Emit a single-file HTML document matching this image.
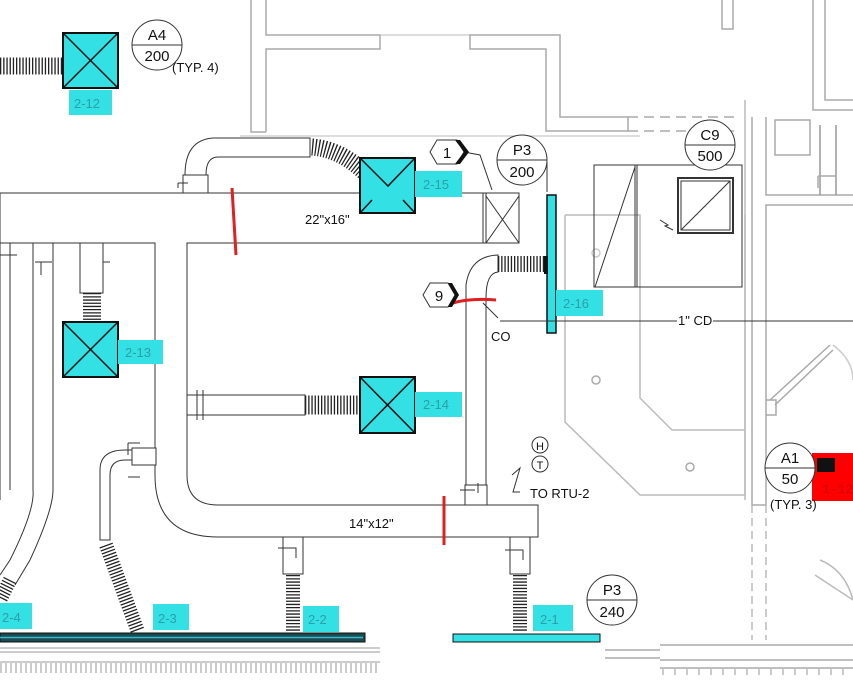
<!DOCTYPE html>
<html><head><meta charset="utf-8"><style>
html,body{margin:0;padding:0;background:#fff}
svg{display:block}
text{font-family:"Liberation Sans",sans-serif}
.m{font-family:"Liberation Mono",monospace;fill:#2aa0a8;font-size:13px}
</style></head><body>
<svg width="853" height="680" viewBox="0 0 853 680" xmlns="http://www.w3.org/2000/svg">
<g fill="none" stroke="#aaa" stroke-width="1.5">
<!-- walls top -->
<path d="M251 0V132H266M266 0V35H380V49H266V132"/>
<path d="M380 35H470M240 136H640" stroke-width="1" stroke="#bbb"/>
<path d="M470 35H560V117H628V131H546V49H470Z"/>
<path d="M628 117H740M628 131H740" stroke-dasharray="10 6"/>
<path d="M722 0V29H733V0"/>
<path d="M813 0V110H853M825 0V100H853"/>
<path d="M752 117V505H766V205H853M766 117V195H853"/>
<path d="M820 125V195M836 125V195" stroke="#999"/>
<path d="M818 176H836M818 176V188"/>
<path d="M775 120H810V155H775Z"/>
<!-- room outlines -->
<path d="M565 215H640V398L672 430H745" stroke="#bbb"/>
<path d="M565 215V422L640 495H745V215" stroke="#bbb"/>
<path d="M745 100V500" stroke="#bbb"/>
<circle cx="596" cy="380" r="4"/><circle cx="690" cy="467" r="4"/><circle cx="596" cy="253" r="4" stroke="#ccc"/>
<path d="M770 400L830 345M775 405L833 350"/>
<path d="M766 400H776V415H766"/>
<path d="M833 345Q853 360 853 380" stroke="#ccc"/>
<path d="M820 560Q845 570 853 600M815 575L853 600" stroke="#bbb"/>
<path d="M752 505V640M766 505V640" stroke-dasharray="8 5" stroke="#bbb"/>
<!-- bottom wall -->
<path d="M0 648H380M0 662H380M0 652H380" stroke="#bbb"/>
<path d="M0 668H380" stroke="#ccc" stroke-dasharray="2 3" stroke-width="10"/>
<path d="M605 650H660M605 658H660M660 645H853M660 668H853M660 660H853" stroke="#aaa"/>
<path d="M662 672H853" stroke="#ccc" stroke-dasharray="2 10" stroke-width="6"/>
</g>
<!-- AHU box -->
<g fill="none" stroke="#333" stroke-width="1">
<rect x="594" y="165" width="148" height="122"/>
<path d="M635 165V287M637 165V287M595 287L635 167"/>
<rect x="678" y="178" width="55" height="55" stroke-width="2"/>
<rect x="681" y="181" width="49" height="49"/>
<path d="M681 230L730 181M660 220l8 5-3 1 8 4"/>
</g>
<!-- ducts -->
<g fill="#fff" stroke="#333" stroke-width="1">
<path d="M0 193H483V243H187V475 Q187 505 218 505H538V537H218 Q155 537 155 475V243H0Z"/>
<path d="M213 138H310V157H213"/>
<path d="M213 138Q185 140 185 175H206Q206 157 218 157" />
<rect x="183" y="175" width="25" height="18"/>
<path d="M178 183h10M178 183v5" fill="none"/>
<rect x="483" y="193" width="36" height="50"/><path d="M486 193V243M486 196L519 243M519 196L486 243" fill="none"/>
<path d="M466 505V285Q470 256 498 255H498V272Q486 273 486 298V505Z"/>
<rect x="465" y="485" width="22" height="20"/>
<path d="M187 395H305V415H187Z"/>
<path d="M197 390V420M203 390V420" fill="none"/>
<!-- left verticals -->
<path d="M0 243V500M10 243V490M33 243V490M53 243V490Q53 510 30 560L15 585M33 490Q35 510 10 560L0 575" fill="none"/>
<path d="M17 255h-17M52 262H35M41 262V275M110 262H90M90 262V275" fill="none"/>
<rect x="80" y="243" width="23" height="50"/>
<!-- 2-3 elbow -->
<path d="M100 540V470Q100 450 125 450H132V460H125Q110 460 110 475V540Z"/>
<rect x="132" y="448" width="24" height="17"/>
<path d="M128 443h12M128 443V455M128 477h12" fill="none"/>
<!-- drops -->
<rect x="283" y="537" width="20" height="37"/><path d="M278 548h18v10" fill="none"/>
<rect x="510" y="537" width="20" height="37"/><path d="M505 550h18v10" fill="none"/>
<path d="M460 490h15M478 483v10" fill="none"/>
</g>
<!-- flex ducts -->
<g fill="none" stroke="#222" stroke-dasharray="1.3 1.9">
<path d="M0 66H64" stroke-width="17"/>
<path d="M312 147Q350 150 380 190" stroke-width="17"/>
<path d="M92 293V330" stroke-width="18"/>
<path d="M305 405H362" stroke-width="19"/>
<path d="M498 264H545" stroke-width="16"/>
<path d="M106 545L138 632" stroke-width="14"/>
<path d="M293 575V632" stroke-width="14"/>
<path d="M520 575V632" stroke-width="14"/>
<path d="M10 580L0 600" stroke-width="14"/>
</g>
<!-- diffusers -->
<g stroke="#111" stroke-width="2">
<rect x="63" y="33" width="55" height="55" fill="#33e0e4"/>
<rect x="360" y="158" width="55" height="55" fill="#33e0e4"/>
<rect x="63" y="322" width="55" height="55" fill="#33e0e4"/>
<rect x="360" y="377" width="55" height="56" fill="#33e0e4"/>
<path d="M63 33L118 88M118 33L63 88M360 158L388 186L415 158M360 213L372 200M415 213L403 200M63 322L118 377M118 322L63 377M360 377L415 433M415 377L360 433" stroke-width="1.5" fill="none"/>
</g>
<rect x="547" y="195" width="9" height="138" fill="#33e0e4" stroke="#111" stroke-width="1.5"/>
<rect x="544" y="256" width="4" height="18" fill="#111"/>
<rect x="0" y="633" width="365" height="9" fill="#1d4a50" stroke="#111"/>
<path d="M0 637.5H363" stroke="#3bc" stroke-width="1.5"/>
<rect x="453" y="634" width="147" height="8" fill="#33e0e4" stroke="#111"/>
<!-- labels -->
<g fill="#33e0e4">
<rect x="69" y="90" width="43" height="25"/><rect x="415" y="171" width="47" height="26"/><rect x="118" y="340" width="45" height="24"/>
<rect x="415" y="392" width="47" height="25"/><rect x="556" y="290" width="47" height="26"/>
<rect x="0" y="603" width="32" height="26"/><rect x="153" y="604" width="36" height="26"/><rect x="303" y="606" width="36" height="26"/><rect x="533" y="605" width="40" height="26"/>
</g>
<g class="m">
<text x="74" y="108">2-12</text><text x="423" y="189">2-15</text><text x="125" y="357">2-13</text><text x="423" y="409">2-14</text><text x="563" y="308">2-16</text>
<text x="2" y="622">2-4</text><text x="158" y="623">2-3</text><text x="308" y="624">2-2</text><text x="540" y="624">2-1</text>
</g>
<rect x="812" y="453" width="41" height="48" fill="#f00"/>
<rect x="817" y="458" width="18" height="14" fill="#111"/>
<text x="822" y="493" font-size="13" class="m" style="fill:#c00">1-12</text>
<!-- red marks -->
<path d="M232 188Q234 220 236 255" stroke="#e02020" stroke-width="3" fill="none"/>
<path d="M453 303Q470 298 496 300" stroke="#e02020" stroke-width="3" fill="none"/>
<path d="M444 496V545" stroke="#e02020" stroke-width="3"/>
<!-- tags -->
<g fill="#fff" stroke="#333" stroke-width="1">
<circle cx="157" cy="45" r="25"/><path d="M132 45H182"/>
<circle cx="522" cy="160" r="25"/><path d="M497 160H547"/>
<circle cx="710" cy="145" r="25"/><path d="M685 145H735"/>
<circle cx="790" cy="468" r="25"/><path d="M765 468H815"/>
<circle cx="612" cy="600" r="25"/><path d="M587 600H637"/>
<polygon points="430,152 437,140 457,140 464,152 457,164 437,164"/>
<polygon points="423,295 430,283 448,283 455,295 448,307 430,307"/>
<circle cx="540" cy="445" r="8"/><circle cx="540" cy="464" r="8"/>
<path d="M464 152L480 155L492 190M547 162V192M483 303L498 318M500 321H556M556 321H853M512 475L520 468L513 492H520" fill="none"/>
</g>
<path d="M455 140L464 152L455 164L460 164L469 152L460 140Z M448 283L455 295L448 307L452 307L459 295L452 283Z" fill="#111"/>
<g font-size="15" fill="#111" text-anchor="middle">
<text x="157" y="40">A4</text><text x="157" y="61">200</text>
<text x="522" y="155">P3</text><text x="522" y="177">200</text>
<text x="710" y="140">C9</text><text x="710" y="161">500</text>
<text x="790" y="463">A1</text><text x="790" y="484">50</text>
<text x="612" y="595">P3</text><text x="612" y="617">240</text>
<text x="447" y="158">1</text><text x="439" y="301">9</text>
<text x="540" y="450" font-size="11">H</text><text x="540" y="469" font-size="11">T</text>
</g>
<g font-size="13" fill="#111">
<text x="172" y="72">(TYP. 4)</text>
<text x="305" y="224">22"x16"</text>
<text x="349" y="528">14"x12"</text>
<text x="491" y="341">CO</text>
<text x="530" y="498">TO RTU-2</text>
<text x="770" y="509">(TYP. 3)</text>
</g>
<rect x="677" y="313" width="36" height="14" fill="#fff"/>
<text x="678" y="325" font-size="13" fill="#111">1" CD</text>
</svg>
</body></html>
